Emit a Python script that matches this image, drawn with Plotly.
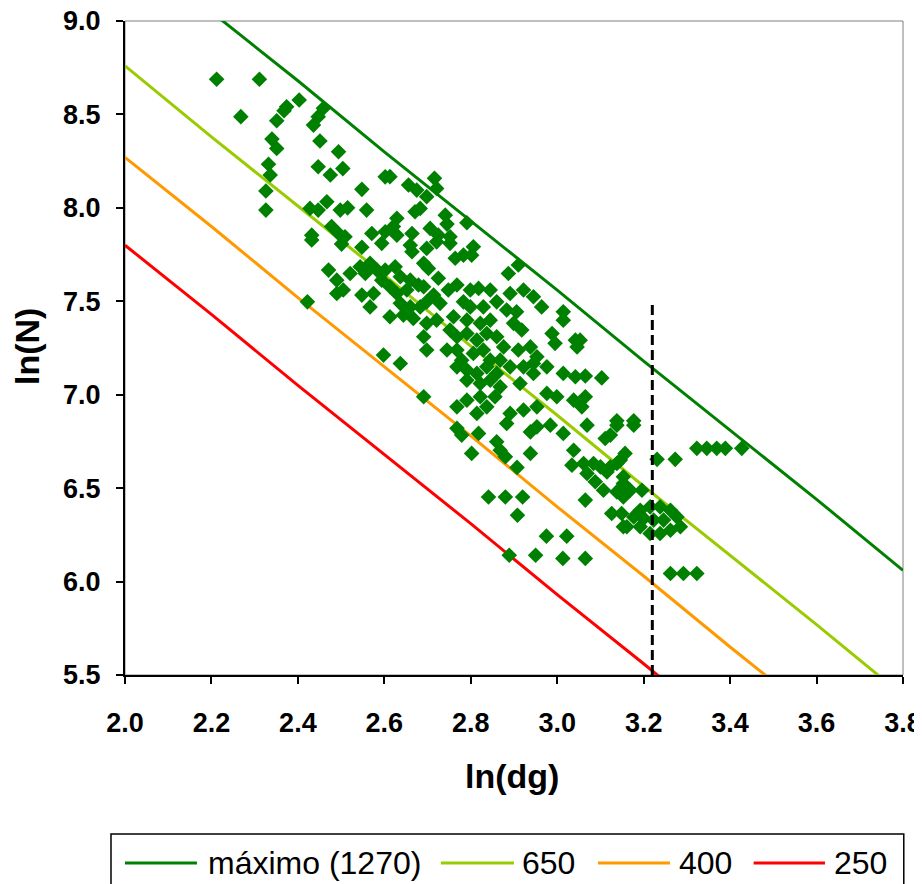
import plotly.graph_objects as go

# stand density lines (ln dg, ln N)
line_x = [2.0, 2.2, 2.4, 2.6, 2.8, 3.0, 3.2, 3.4, 3.6, 3.8]
max_x = [2.21, 2.4, 2.6, 2.8, 3.0, 3.2, 3.4, 3.6, 3.8]
max_y = [9.03, 8.68, 8.30, 7.93, 7.56, 7.18, 6.81, 6.44, 6.06]
l650_y = [8.76, 8.38, 8.01, 7.64, 7.26, 6.89, 6.51, 6.14, 5.77, 5.39]
l400_y = [8.27, 7.90, 7.52, 7.15, 6.78, 6.40, 6.03, 5.65, 5.28, 4.91]
l250_y = [7.80, 7.43, 7.05, 6.68, 6.31, 5.93, 5.56, 5.18, 4.81, 4.44]

# reference diameter ln(25)
ref_x = [3.22, 3.22]
ref_y = [5.5, 7.5]

# observed plots
obs_x = [
    2.212, 2.311, 2.403, 2.374, 2.368, 2.268, 2.351, 2.459, 2.447, 2.436, 2.451, 2.494,
    2.340, 2.351, 2.332, 2.336, 2.326, 2.326, 2.447, 2.475, 2.504, 2.548, 2.602, 2.428,
    2.447, 2.467, 2.498, 2.515, 2.559, 2.478, 2.494, 2.509, 2.432, 2.571, 2.602,
    2.613, 2.656, 2.675, 2.698, 2.716, 2.721, 2.671, 2.683, 2.741, 2.745, 2.791, 2.629,
    2.621, 2.664, 2.706, 2.725, 2.752, 2.629,
    2.660, 2.664, 2.698, 2.721, 2.752, 2.764, 2.783, 2.806, 2.802, 2.625, 2.691, 2.702,
    2.887, 2.910, 2.637, 2.660, 2.679, 2.725, 2.768, 2.748, 2.613, 2.629, 2.652, 2.691,
    2.714, 2.799, 2.818, 2.845, 2.891, 2.922, 2.945, 2.964, 3.014, 3.014, 2.637, 2.660,
    2.683, 2.698, 2.729, 2.783, 2.799, 2.829, 2.860, 2.883, 2.906, 2.613, 2.644, 2.667,
    2.698, 2.721, 2.760, 2.791, 2.822, 2.845, 2.899, 2.918, 2.988, 2.995, 3.042, 3.046,
    2.691, 2.698, 2.752, 2.768, 2.791, 2.814, 2.837, 2.860, 2.876, 2.910, 2.938, 2.953,
    2.745, 2.768, 2.779, 2.806, 2.829, 2.845, 2.868, 2.891, 2.922, 2.945, 2.976, 3.014,
    3.042, 2.637, 2.768, 2.791, 2.814, 2.837, 2.860, 2.791, 2.822, 2.845, 2.868, 2.914,
    2.945, 2.976, 2.999, 3.038, 2.691, 2.768, 2.791, 2.837, 2.891, 2.922, 2.953, 2.814,
    2.856, 2.822,
    2.432, 2.501, 2.548, 2.594, 2.471, 2.490, 2.521, 2.544, 2.567, 2.583, 2.556, 2.490,
    2.505, 2.548, 2.575, 2.567, 2.594, 2.602, 2.422, 2.598,
    2.768, 2.779, 2.818, 2.802, 2.860, 2.868, 2.880, 2.907, 2.938, 2.883, 2.938, 3.014,
    3.038, 3.034, 2.841, 2.880, 2.920, 2.908, 2.975, 3.022, 2.889, 2.950, 3.013, 2.953,
    2.984,
    3.069, 3.138, 3.177, 3.123, 3.111, 3.323, 3.346, 3.369, 3.389, 3.427, 3.231, 3.273,
    3.157, 3.146, 3.061, 3.084, 3.100, 3.123, 3.138, 3.069, 3.115, 3.153, 3.153, 3.088,
    3.107, 3.138, 3.169, 3.196, 3.065, 3.153, 3.126, 3.149,
    3.192, 3.215, 3.238, 3.262, 3.277, 3.285, 3.262, 3.238, 3.215, 3.192, 3.223, 3.246,
    3.200, 3.177, 3.161, 3.153, 3.262, 3.292, 3.323, 3.065,
    3.053, 3.065, 3.103, 3.065, 3.057, 3.138, 3.177,
]
obs_y = [
    8.688, 8.688, 8.577, 8.541, 8.520, 8.488, 8.466, 8.533, 8.488, 8.443, 8.358, 8.300,
    8.368, 8.318, 8.233, 8.176, 8.090, 7.988, 8.220, 8.176, 8.210, 8.099, 8.166, 7.997,
    7.988, 8.033, 7.988, 8.000, 7.988, 7.900, 7.863, 7.845, 7.854, 7.863, 7.872,
    8.167, 8.122, 8.095, 8.060, 8.158, 8.104, 7.979, 7.997, 7.961, 7.913, 7.920, 7.944,
    7.900, 7.863, 7.890, 7.854, 7.845, 7.854,
    7.800, 7.765, 7.783, 7.818, 7.810, 7.730, 7.747, 7.792, 7.747, 7.685, 7.703, 7.676,
    7.649, 7.694, 7.631, 7.613, 7.587, 7.623, 7.587, 7.560, 7.578, 7.542, 7.560, 7.578,
    7.533, 7.560, 7.569, 7.560, 7.542, 7.560, 7.524, 7.470, 7.444, 7.399, 7.489, 7.470,
    7.470, 7.497, 7.489, 7.497, 7.470, 7.470, 7.497, 7.453, 7.444, 7.417, 7.426, 7.408,
    7.382, 7.399, 7.417, 7.399, 7.382, 7.399, 7.382, 7.346, 7.328, 7.275, 7.292, 7.256,
    7.310, 7.239, 7.346, 7.310, 7.328, 7.292, 7.328, 7.310, 7.256, 7.239, 7.256, 7.203,
    7.239, 7.239, 7.185, 7.221, 7.239, 7.185, 7.185, 7.149, 7.149, 7.167, 7.149, 7.114,
    7.096, 7.167, 7.149, 7.132, 7.114, 7.149, 7.114, 7.078, 7.060, 7.078, 7.042, 7.060,
    7.114, 7.007, 6.989, 6.971, 6.989, 6.935, 6.971, 6.935, 6.900, 6.918, 6.935, 6.900,
    6.989, 6.989,
    7.828, 7.806, 7.789, 7.810, 7.667, 7.613, 7.649, 7.685, 7.703, 7.667, 7.649, 7.542,
    7.560, 7.533, 7.542, 7.470, 7.613, 7.667, 7.497, 7.212,
    6.820, 6.784, 6.793, 6.686, 6.748, 6.703, 6.668, 6.611, 6.686, 6.846, 6.801, 6.793,
    6.703, 6.623, 6.453, 6.453, 6.453, 6.355, 6.243, 6.243, 6.141, 6.141, 6.124, 6.828,
    6.837,
    6.837, 6.837, 6.837, 6.784, 6.766, 6.713, 6.713, 6.713, 6.713, 6.713, 6.654, 6.654,
    6.686, 6.650, 6.632, 6.632, 6.614, 6.614, 6.632, 6.579, 6.587, 6.561, 6.525, 6.534,
    6.489, 6.480, 6.489, 6.489, 6.436, 6.453, 6.364, 6.364,
    6.382, 6.400, 6.400, 6.382, 6.346, 6.293, 6.275, 6.257, 6.257, 6.293, 6.329, 6.329,
    6.338, 6.346, 6.293, 6.293, 6.043, 6.043, 6.043, 6.124,
    7.292, 7.100, 7.090, 6.989, 6.935, 6.860, 6.860,
]

legend_names = ["máximo (1270)", "650", "400", "250"]
line_colors = ["#008000", "#99CC00", "#FF9900", "#FF0000"]

fig = go.Figure()
fig.add_trace(go.Scatter(x=max_x, y=max_y, mode="lines", name=legend_names[0],
                         line=dict(color=line_colors[0], width=3)))
fig.add_trace(go.Scatter(x=line_x, y=l650_y, mode="lines", name=legend_names[1],
                         line=dict(color=line_colors[1], width=3)))
fig.add_trace(go.Scatter(x=line_x, y=l400_y, mode="lines", name=legend_names[2],
                         line=dict(color=line_colors[2], width=3)))
fig.add_trace(go.Scatter(x=line_x, y=l250_y, mode="lines", name=legend_names[3],
                         line=dict(color=line_colors[3], width=3)))
fig.add_trace(go.Scatter(x=obs_x, y=obs_y, mode="markers", showlegend=False,
                         marker=dict(symbol="diamond", size=12, color="#008000",
                                     line=dict(width=0))))
fig.add_trace(go.Scatter(x=ref_x, y=ref_y, mode="lines", showlegend=False,
                         line=dict(color="black", width=3, dash="10px,5px")))

# hand-drawn legend box like the Excel one
legend_line_x = [(0.0, 0.0925), (0.406, 0.500), (0.608, 0.7005), (0.808, 0.8997)]
legend_text_x = [0.1041, 0.5077, 0.7095, 0.9087]
shapes = [
    dict(type="rect", xref="paper", yref="paper", x0=0, x1=1, y0=0, y1=1,
         line=dict(color="#808080", width=1), layer="below"),
    dict(type="rect", xref="paper", yref="paper", x0=-0.018, x1=1.001,
         y0=-0.34, y1=-0.2431, line=dict(color="black", width=1.5)),
]
annotations = [
    dict(xref="paper", yref="paper", x=0.497, y=-0.155, text="<b>ln(dg)</b>",
         showarrow=False, xanchor="center", yanchor="middle", font=dict(size=34)),
    dict(xref="paper", yref="paper", x=-0.126, y=0.503, text="<b>ln(N)</b>",
         showarrow=False, xanchor="center", yanchor="middle", textangle=-90,
         font=dict(size=34)),
]
for (a, b), tx, name, col in zip(legend_line_x, legend_text_x, legend_names, line_colors):
    shapes.append(dict(type="line", xref="paper", yref="paper", x0=a, x1=b,
                       y0=-0.2875, y1=-0.2875, line=dict(color=col, width=3)))
    annotations.append(dict(xref="paper", yref="paper", x=tx, y=-0.2875, text=name,
                            showarrow=False, xanchor="left", yanchor="middle",
                            font=dict(size=32, color="black")))

# page body adds 8px, so the figure is 8px smaller and margins shifted
fig.update_layout(
    width=914, height=876,
    margin=dict(l=117, r=19, t=13, b=209),
    plot_bgcolor="white", paper_bgcolor="white",
    font=dict(family="Liberation Sans, Arial, sans-serif", color="black"),
    showlegend=False,
    shapes=shapes, annotations=annotations,
)
fig.update_xaxes(range=[2.0, 3.8], dtick=0.2, tickformat=".1f", showgrid=False,
                 zeroline=False, showline=True, linecolor="black", linewidth=2,
                 ticks="outside", ticklen=7, tickwidth=2, tickcolor="black",
                 tickfont=dict(size=27, weight="bold"), ticklabelstandoff=16,
                 ticklabeloverflow="allow", automargin=False)
fig.update_yaxes(range=[5.5, 9.0], dtick=0.5, tickformat=".1f", showgrid=False,
                 zeroline=False, showline=True, linecolor="black", linewidth=2,
                 ticks="outside", ticklen=7, tickwidth=2, tickcolor="black",
                 tickfont=dict(size=27, weight="bold"), ticklabelstandoff=10,
                 ticklabeloverflow="allow", automargin=False)

fig.write_html("out.html")
